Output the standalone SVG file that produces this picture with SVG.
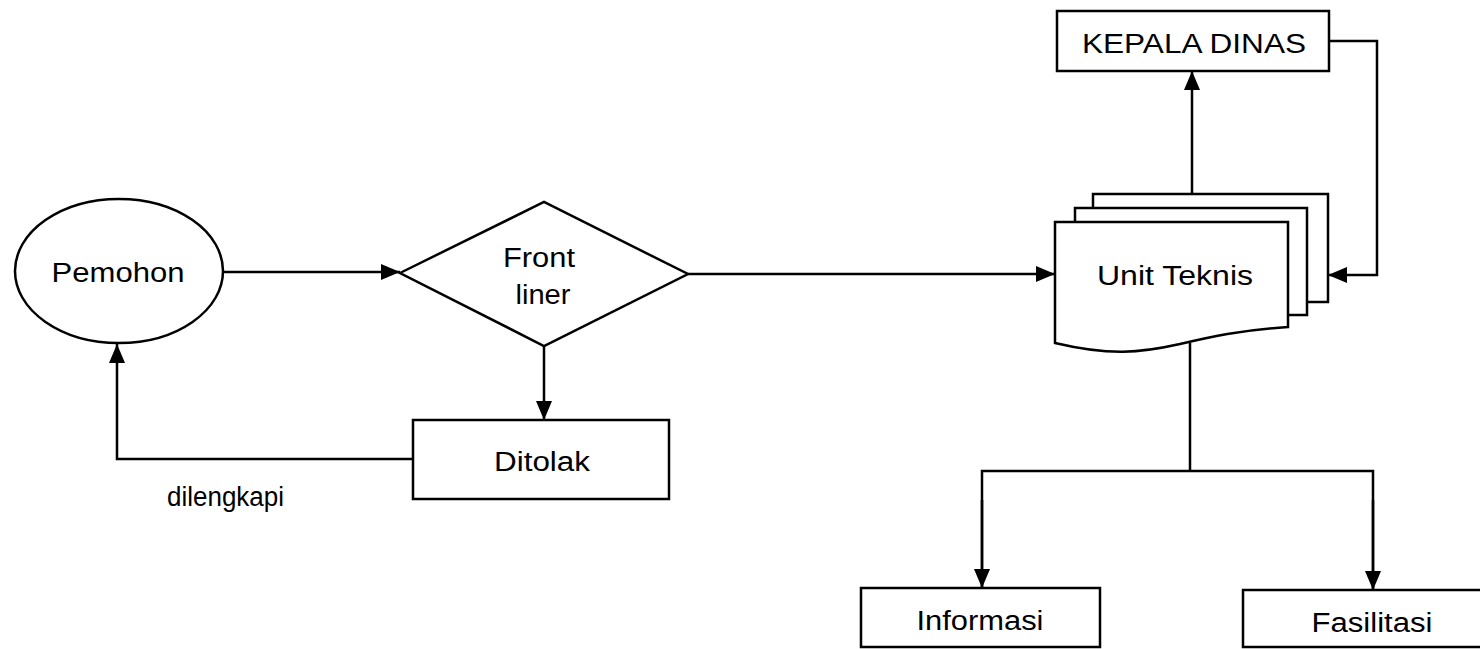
<svg xmlns="http://www.w3.org/2000/svg" width="1480" height="649" viewBox="0 0 1480 649">
<style>
.s{fill:#fff;stroke:#000;stroke-width:2.5}
.c{fill:none;stroke:#000;stroke-width:2.5}
.t{font-family:"Liberation Sans",Arial,sans-serif;font-size:27px;fill:#000}
.m{text-anchor:middle}
</style>
<defs>
<marker id="a" markerUnits="userSpaceOnUse" markerWidth="20" markerHeight="16" refX="19" refY="8" orient="auto">
<path d="M0,0 L19,8 L0,16 Z" fill="#000"/>
</marker>
</defs>
<rect width="1480" height="649" fill="#fff"/>
<g id="connectors">
<line class="c" x1="224" y1="272" x2="400" y2="272" marker-end="url(#a)"/>
<line class="c" x1="544" y1="346" x2="544" y2="420" marker-end="url(#a)"/>
<polyline class="c" points="413,459 117,459 117,344" marker-end="url(#a)"/>
<line class="c" x1="688" y1="274" x2="1055" y2="274" marker-end="url(#a)"/>
<line class="c" x1="1192" y1="194" x2="1192" y2="71" marker-end="url(#a)"/>
<polyline class="c" points="1329,41 1377,41 1377,275 1328,275" marker-end="url(#a)"/>
<polyline class="c" points="1190,343 1190,471"/>
<polyline class="c" points="982,588 982,471 1373,471 1373,590"/>
<line class="c" x1="982" y1="500" x2="982" y2="588" marker-end="url(#a)"/>
<line class="c" x1="1373" y1="500" x2="1373" y2="590" marker-end="url(#a)"/>
</g>
<g id="pemohon">
<ellipse class="s" cx="119" cy="271" rx="104" ry="72"/>
<text class="t m" x="118" y="282" textLength="133" lengthAdjust="spacingAndGlyphs">Pemohon</text>
</g>
<g id="frontliner">
<polygon class="s" points="400,273 544,202 688,274 544,346"/>
<text class="t m" x="539" y="267" textLength="72" lengthAdjust="spacingAndGlyphs">Front</text>
<text class="t m" x="543" y="304" textLength="55" lengthAdjust="spacingAndGlyphs">liner</text>
</g>
<g id="ditolak">
<rect class="s" x="413" y="420" width="256" height="79"/>
<text class="t m" x="542" y="471" textLength="96" lengthAdjust="spacingAndGlyphs">Ditolak</text>
</g>
<g id="label-dilengkapi">
<text class="t" x="167" y="506" textLength="117" lengthAdjust="spacingAndGlyphs">dilengkapi</text>
</g>
<g id="unitteknis">
<rect class="s" x="1093" y="194" width="235" height="108"/>
<rect class="s" x="1075" y="208" width="232" height="107"/>
<path class="s" d="M1055,222 H1288 V327 C1240,330 1210,337 1180,344 C1140,353 1110,356 1055,343 Z"/>
<text class="t m" x="1175" y="285" textLength="156" lengthAdjust="spacingAndGlyphs">Unit Teknis</text>
</g>
<g id="kepaladinas">
<rect class="s" x="1057" y="11" width="272" height="60"/>
<text class="t m" x="1194" y="53" textLength="224" lengthAdjust="spacingAndGlyphs">KEPALA DINAS</text>
</g>
<g id="informasi">
<rect class="s" x="861" y="588" width="239" height="59"/>
<text class="t m" x="980" y="630" textLength="127" lengthAdjust="spacingAndGlyphs">Informasi</text>
</g>
<g id="fasilitasi">
<rect class="s" x="1243" y="590" width="260" height="57"/>
<text class="t m" x="1372" y="632" textLength="121" lengthAdjust="spacingAndGlyphs">Fasilitasi</text>
</g>
</svg>
